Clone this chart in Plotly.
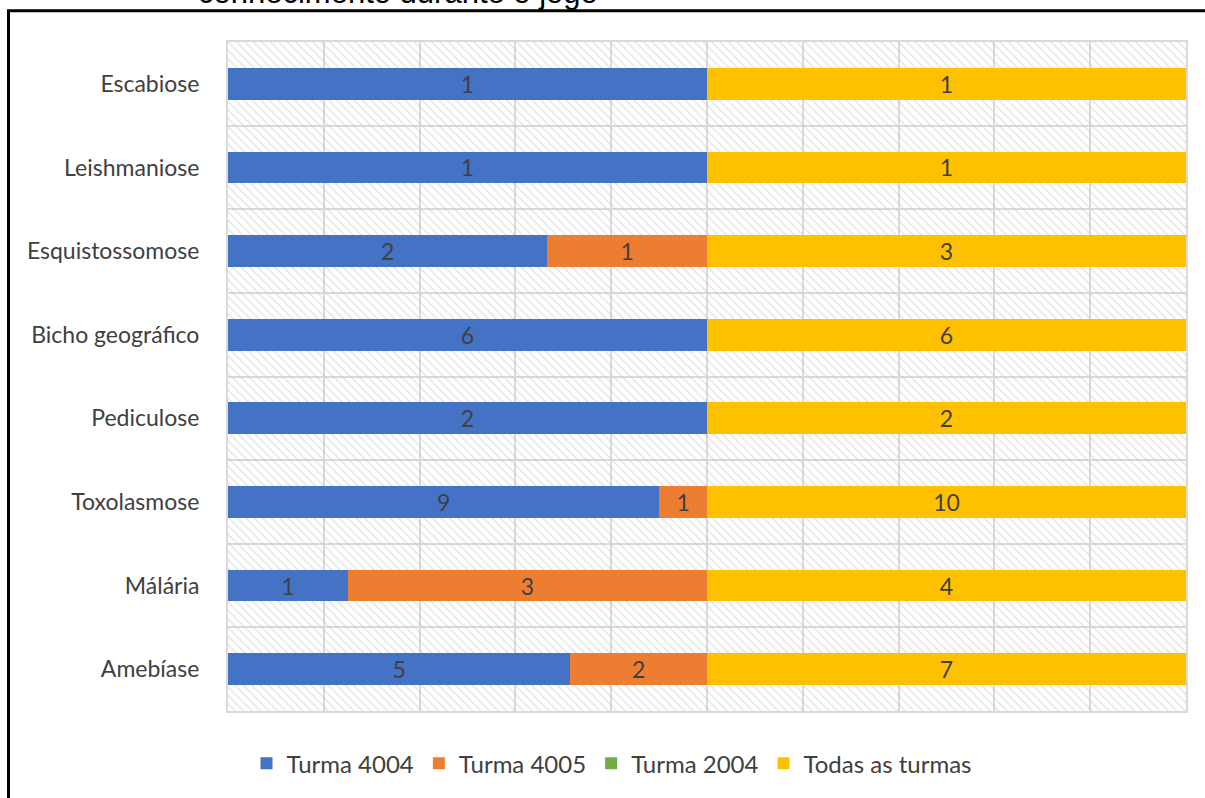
import plotly.graph_objects as go

# Diseases, listed top to bottom
categorias = ["Escabiose", "Leishmaniose", "Esquistossomose", "Bicho geográfico",
              "Pediculose", "Toxolasmose", "Málária", "Amebíase"]

turma_4004 = [1, 1, 2, 6, 2, 9, 1, 5]
turma_4005 = [0, 0, 1, 0, 0, 1, 3, 2]
turma_2004 = [0, 0, 0, 0, 0, 0, 0, 0]
todas_turmas = [1, 1, 3, 6, 2, 10, 4, 7]

series = [
    ("Turma 4004", turma_4004, "#4472C4"),
    ("Turma 4005", turma_4005, "#ED7D31"),
    ("Turma 2004", turma_2004, "#70AD47"),
    ("Todas as turmas", todas_turmas, "#FFC000"),
]

W, H = 1205, 798
L, R, T, B = 228, 19, 42, 84
PW, PH = W - L - R, H - T - B


def px_x(p):
    return (p - L) / PW


def px_y(p):
    return (H - B - p) / PH


FONT = "Lato"
TXT = "#404040"
GRID = "#d9d9d9"

fig = go.Figure()

# hatched plot-area fill: one full-height bar per category on the base axes
fig.add_trace(go.Bar(
    y=categorias, x=[1] * len(categorias), orientation="h", width=1,
    marker=dict(color="rgba(0,0,0,0)", line=dict(width=0),
                pattern=dict(shape="\\", fgcolor="#c4c4c4", size=6, solidity=0.22)),
    showlegend=False, hoverinfo="skip", xaxis="x", yaxis="y",
))

# data bars on the overlaid axes so they sit above the hatching
for nome, vals, cor in series:
    fig.add_trace(go.Bar(
        name=nome, y=categorias, x=vals, orientation="h", width=0.38,
        marker=dict(color=cor, line=dict(width=0)),
        text=[str(v) if v else "" for v in vals],
        textposition="inside", insidetextanchor="middle", textangle=0,
        constraintext="none",
        textfont=dict(family=FONT, size=23, color=TXT),
        xaxis="x2", yaxis="y2",
    ))

fig.update_layout(
    width=W, height=H,
    margin=dict(l=L, r=R, t=T, b=B),
    paper_bgcolor="white", plot_bgcolor="white",
    barmode="stack", barnorm="percent",
    font=dict(family=FONT, size=23, color=TXT),
    xaxis=dict(range=[0, 100], dtick=10, showgrid=True, gridcolor=GRID, gridwidth=2,
               showticklabels=False, ticks="", zeroline=False,
               showline=True, linecolor=GRID, linewidth=2, mirror=True),
    yaxis=dict(type="category", categoryorder="array", categoryarray=categorias,
               range=[len(categorias) - 0.5, -0.5], tickson="boundaries",
               showgrid=True, gridcolor=GRID, gridwidth=2, ticks="",
               ticklabelstandoff=22,
               tickfont=dict(family=FONT, size=23, color=TXT),
               showline=True, linecolor=GRID, linewidth=2, mirror=True),
    xaxis2=dict(overlaying="x", range=[0, 100], visible=False),
    yaxis2=dict(overlaying="y", type="category", categoryorder="array",
                categoryarray=categorias, range=[len(categorias) - 0.5, -0.5],
                visible=False),
    legend=dict(orientation="h", x=px_x(612), xanchor="center",
                y=px_y(767), yanchor="middle",
                font=dict(family=FONT, size=24, color=TXT),
                traceorder="normal"),
    showlegend=True,
)

# outer chart frame (extends past the right and bottom edges)
fig.add_shape(type="rect", xref="paper", yref="paper",
              x0=px_x(8.5), x1=px_x(W + 20), y0=px_y(H + 20), y1=px_y(10.5),
              line=dict(color="black", width=3), fillcolor="rgba(0,0,0,0)", layer="above")

# title of the chart, mostly above the top edge
fig.add_annotation(text="conhecimento durante o jogo", xref="paper", yref="paper",
                   x=px_x(398), y=px_y(12), xanchor="center", yanchor="bottom",
                   showarrow=False,
                   font=dict(family="Liberation Sans", size=31, color="black"))

fig.write_html("out.html")
